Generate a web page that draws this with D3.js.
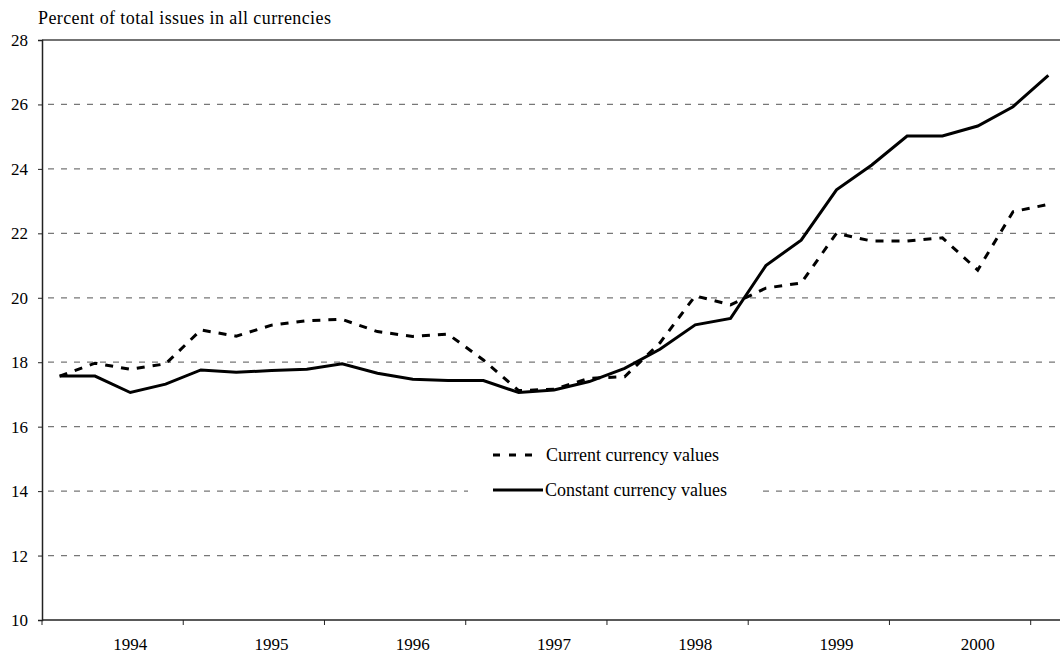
<!DOCTYPE html>
<html lang="en">
<head>
    <meta charset="UTF-8">
    <title>Share of issues in all currencies</title>
    <script src="https://d3js.org/d3.v7.min.js"></script>
    <style>
        body { margin: 0; background: #fff; }
        text { font-family: "Liberation Serif", "Times New Roman", serif; fill: #000; }
    </style>
</head>
<body>
    <div id="chart"></div>

    <script>
        // quarters, 1993 Q3 .. 2000 Q3
        var quarters = [];
        for (var yr = 1993; yr <= 2000; yr++) {
            for (var q = 1; q <= 4; q++) {
                if ((yr === 1993 && q < 3) || (yr === 2000 && q > 3)) continue;
                quarters.push(yr + "Q" + q);
            }
        }

        var currentValues = [17.57, 17.97, 17.78, 17.95, 19.0, 18.81, 19.15, 19.29, 19.33, 18.95,
                             18.8, 18.87, 18.07, 17.12, 17.16, 17.5, 17.55, 18.6, 20.06, 19.78,
                             20.3, 20.46, 22.0, 21.76, 21.76, 21.86, 20.86, 22.67, 22.9];
        var constantValues = [17.57, 17.57, 17.06, 17.32, 17.76, 17.69, 17.74, 17.78, 17.95, 17.66,
                              17.47, 17.43, 17.43, 17.06, 17.14, 17.4, 17.81, 18.4, 19.16, 19.36,
                              21.0, 21.79, 23.35, 24.12, 25.02, 25.02, 25.33, 25.93, 26.9];
        var yTicks = [10, 12, 14, 16, 18, 20, 22, 24, 26, 28];
        var yearLabels = ["1994", "1995", "1996", "1997", "1998", "1999", "2000"];

        var width = 1060, height = 653;
        var plotLeft = 42, plotTop = 40, plotBottom = 620, plotRight = 1066;

        var svg = d3.select('#chart').append('svg')
            .attr('width', width)
            .attr('height', height);

        var x = d3.scaleBand()
            .domain(quarters)
            .range([plotLeft, plotRight]);

        var y = d3.scaleLinear()
            .domain([10, 28])
            .range([plotBottom, plotTop]);

        var cx = function (i) { return x(quarters[i]) + x.bandwidth() / 2; };

        // gridlines
        svg.append('g')
            .selectAll('line')
            .data(yTicks.filter(function (d) { return d > 10 && d < 28; }))
            .enter().append('line')
                .attr('x1', plotLeft + 6)
                .attr('x2', width)
                .attr('y1', function (d) { return y(d); })
                .attr('y2', function (d) { return y(d); })
                .attr('stroke', '#777')
                .attr('stroke-width', 1.2)
                .attr('stroke-dasharray', '6,7');

        // top border
        svg.append('line')
            .attr('x1', plotLeft).attr('x2', width)
            .attr('y1', y(28)).attr('y2', y(28))
            .attr('stroke', '#444').attr('stroke-width', 1.5);

        // y axis
        var yAxis = d3.axisLeft(y).tickValues(yTicks).tickSize(4).tickPadding(10);
        var gy = svg.append('g')
            .attr('transform', 'translate(' + plotLeft + ',0)')
            .call(yAxis);
        gy.select('.domain').attr('stroke', '#222').attr('stroke-width', 1.5);
        gy.selectAll('.tick line').attr('stroke', '#222');
        gy.selectAll('text')
            .style('font-size', '17px')
            .style('font-family', '"Liberation Serif", serif')
            .attr('fill', '#000');

        // x axis: ticks at the start of each Q3, labels on Q1
        svg.append('line')
            .attr('x1', plotLeft).attr('x2', width)
            .attr('y1', plotBottom).attr('y2', plotBottom)
            .attr('stroke', '#222').attr('stroke-width', 1.5);

        svg.append('g')
            .selectAll('line')
            .data(quarters.filter(function (d) { return /Q3$/.test(d); }))
            .enter().append('line')
                .attr('x1', function (d) { return x(d); })
                .attr('x2', function (d) { return x(d); })
                .attr('y1', plotBottom)
                .attr('y2', plotBottom + 5)
                .attr('stroke', '#222');

        svg.append('g')
            .selectAll('text')
            .data(yearLabels)
            .enter().append('text')
                .attr('x', function (d) { return x(d + "Q1") + x.bandwidth() / 2; })
                .attr('y', 650)
                .attr('text-anchor', 'middle')
                .style('font-size', '17px')
                .text(function (d) { return d; });

        // title
        svg.append('text')
            .attr('x', 38)
            .attr('y', 24)
            .style('font-size', '18px')
            .style('letter-spacing', '0.4px')
            .text('Percent of total issues in all currencies');

        var line = d3.line()
            .x(function (d, i) { return cx(i); })
            .y(function (d) { return y(d); });

        svg.append('path')
            .datum(constantValues)
            .attr('d', line)
            .attr('fill', 'none')
            .attr('stroke', '#000')
            .attr('stroke-width', 3);

        svg.append('path')
            .datum(currentValues)
            .attr('d', line)
            .attr('fill', 'none')
            .attr('stroke', '#000')
            .attr('stroke-width', 3)
            .attr('stroke-dasharray', '8,8');

        // legend (white box hides the gridline behind it)
        var legend = svg.append('g').attr('transform', 'translate(493,455)');
        legend.append('rect')
            .attr('x', -25).attr('y', -16).attr('width', 292).attr('height', 66)
            .attr('fill', '#fff');
        legend.append('line')
            .attr('x1', 0).attr('x2', 48).attr('y1', 0).attr('y2', 0)
            .attr('stroke', '#000').attr('stroke-width', 3).attr('stroke-dasharray', '7,9');
        legend.append('text').attr('x', 53).attr('y', 6)
            .style('font-size', '18px').text('Current currency values');
        legend.append('line')
            .attr('x1', 0).attr('x2', 50).attr('y1', 35).attr('y2', 35)
            .attr('stroke', '#000').attr('stroke-width', 3);
        legend.append('text').attr('x', 52).attr('y', 41)
            .style('font-size', '18px').text('Constant currency values');
    </script>
</body>
</html>
